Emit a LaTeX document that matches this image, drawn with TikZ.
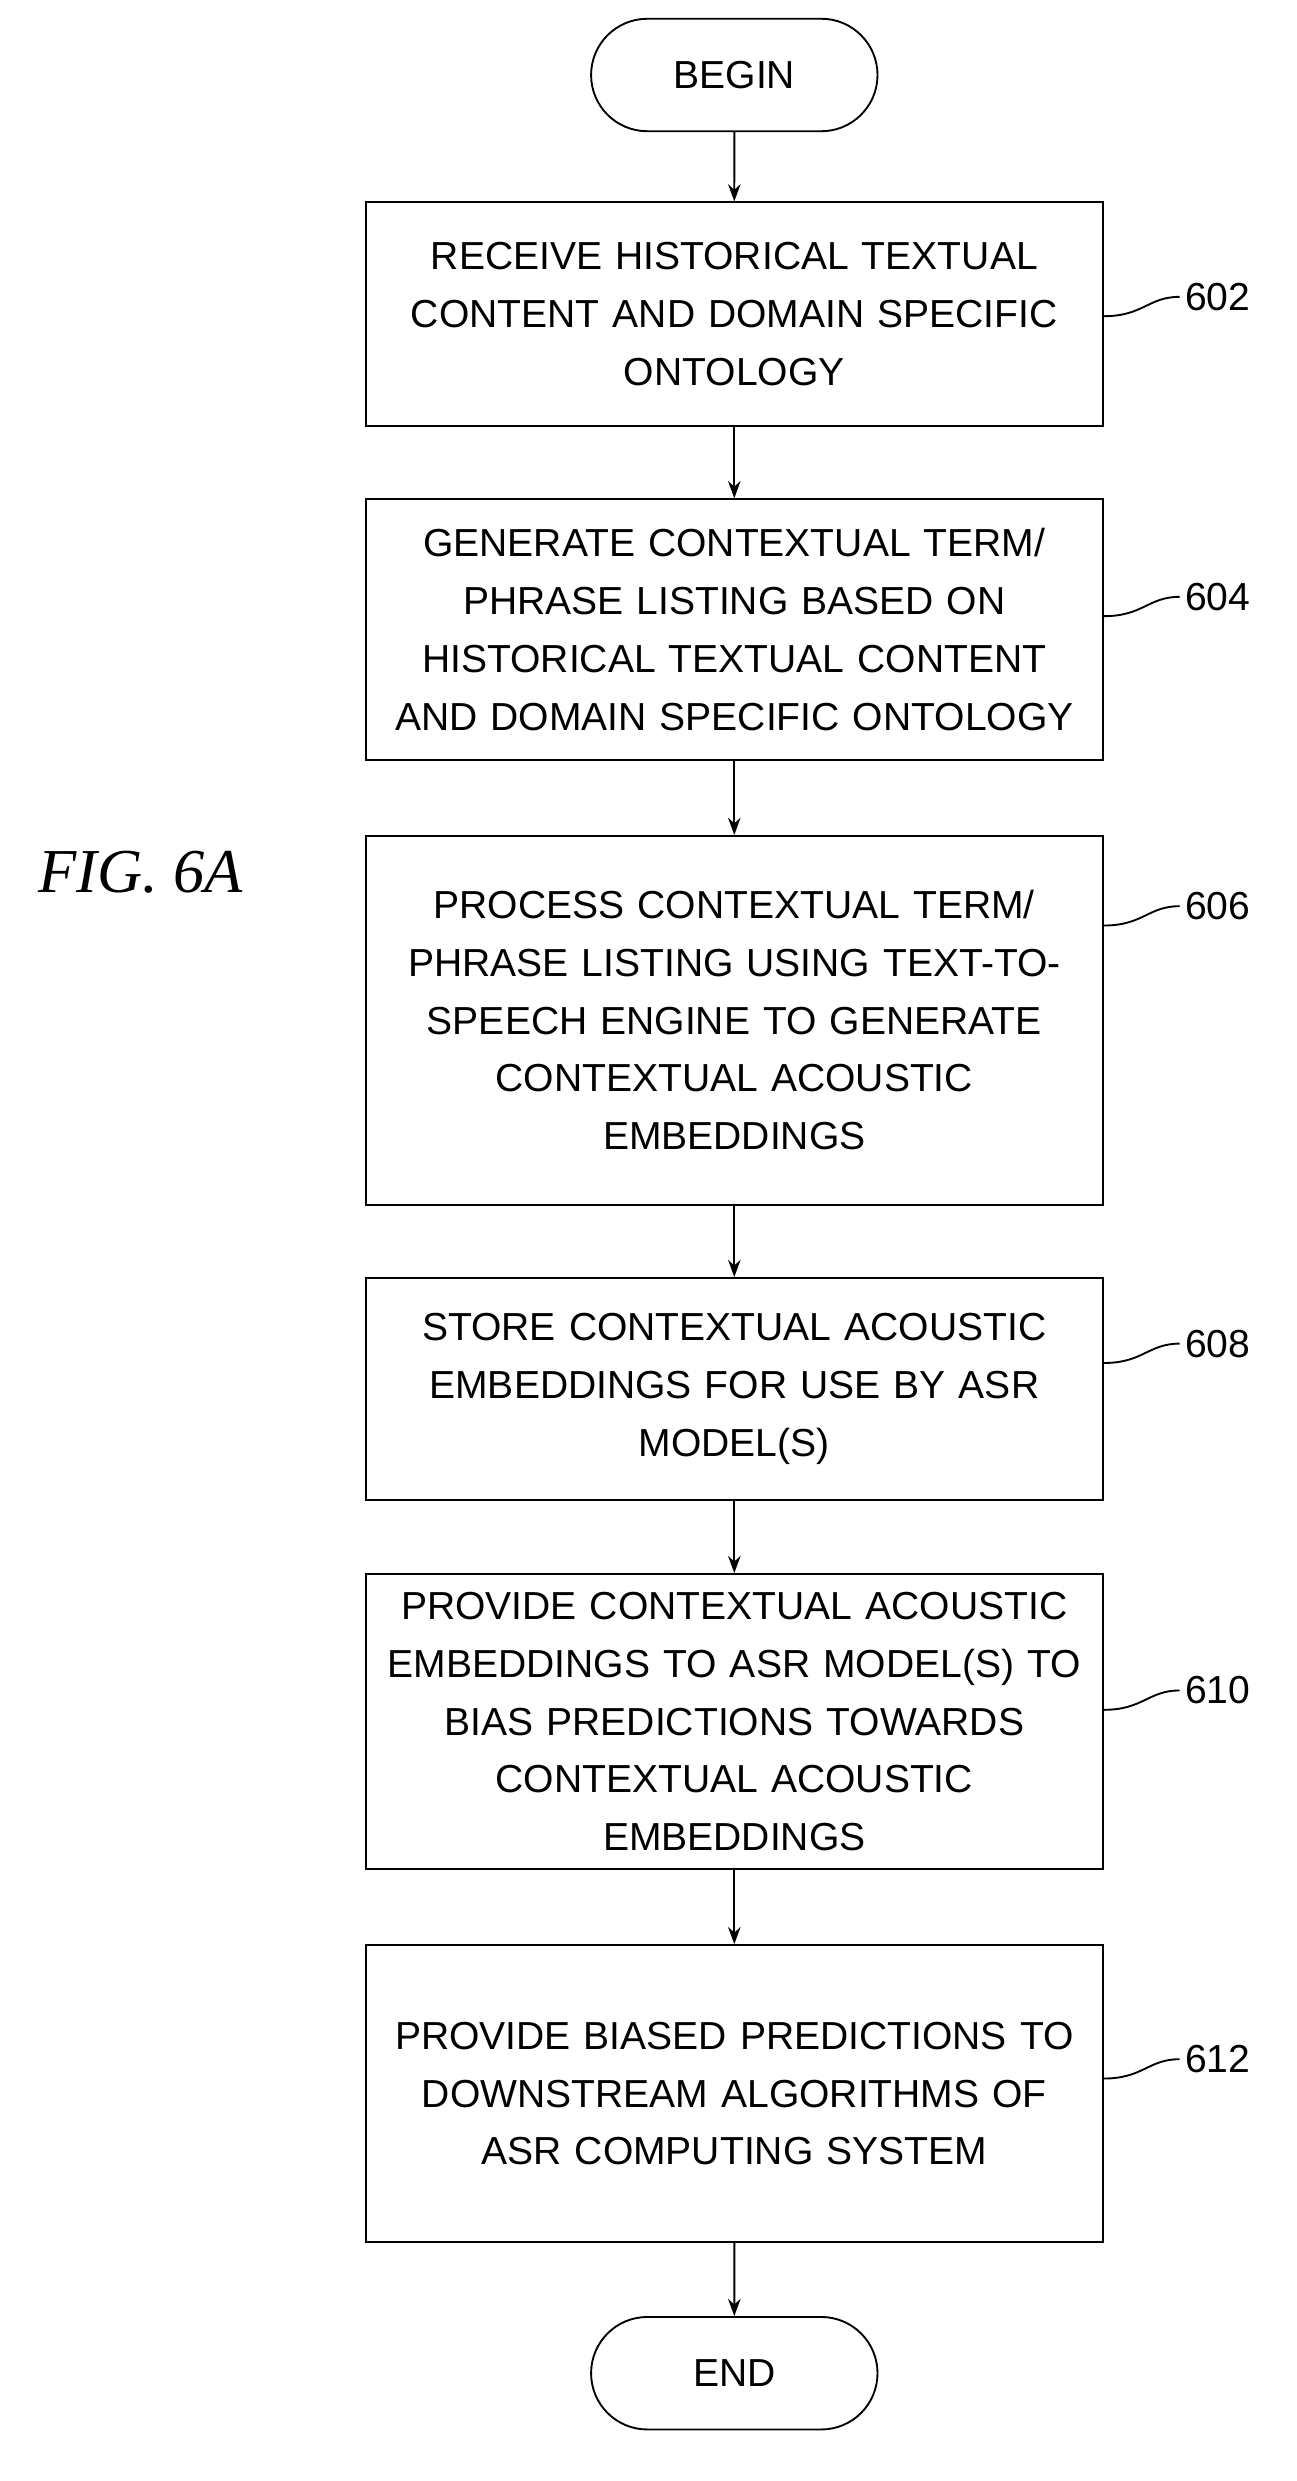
\documentclass[tikz,border=0pt]{standalone}
\usepackage{fontspec}
\setmainfont{Liberation Sans}
\newfontfamily\figfont{Liberation Serif}
\usetikzlibrary{positioning,shapes.misc,arrows.meta}
\tikzset{
	stepbox/.style={draw,line width=1.2pt,minimum width=472pt,text width=470pt,align=center,inner sep=0pt,font=\fontsize{25}{37}\selectfont},
	term/.style={draw,rounded rectangle,line width=1.2pt,minimum width=190pt,minimum height=72pt,font=\fontsize{25}{28}\selectfont},
	flow/.style={->,>={Stealth[width=8pt,length=11pt]},line width=1.2pt},
	lead/.style={line width=1.2pt},
	reflabel/.style={font=\fontsize{25}{28}\selectfont,anchor=west}
}
\begin{document}
\begin{tikzpicture}[x=1pt,y=-1pt]
	\useasboundingbox (0,0) rectangle (830,1588);
	
	\node[term] (begin) at (470,48) {BEGIN};
	\node[stepbox,minimum height=143pt] (s602) at (470,201) {RECEIVE HISTORICAL TEXTUAL\\CONTENT AND DOMAIN SPECIFIC\\ONTOLOGY};
	\node[stepbox,minimum height=167pt] (s604) at (470,403) {GENERATE CONTEXTUAL TERM/\\PHRASE LISTING BASED ON\\HISTORICAL TEXTUAL CONTENT\\AND DOMAIN SPECIFIC ONTOLOGY};
	\node[stepbox,minimum height=236pt] (s606) at (470,653) {PROCESS CONTEXTUAL TERM/\\PHRASE LISTING USING TEXT-TO-\\SPEECH ENGINE TO GENERATE\\CONTEXTUAL ACOUSTIC\\EMBEDDINGS};
	\node[stepbox,minimum height=142pt] (s608) at (470,889) {STORE CONTEXTUAL ACOUSTIC\\EMBEDDINGS FOR USE BY ASR\\MODEL(S)};
	\node[stepbox,minimum height=189pt] (s610) at (470,1102) {PROVIDE CONTEXTUAL ACOUSTIC\\EMBEDDINGS TO ASR MODEL(S) TO\\BIAS PREDICTIONS TOWARDS\\CONTEXTUAL ACOUSTIC\\EMBEDDINGS};
	\node[stepbox,minimum height=190pt] (s612) at (470,1340) {PROVIDE BIASED PREDICTIONS TO\\DOWNSTREAM ALGORITHMS OF\\ASR COMPUTING SYSTEM};
	\node[term] (end) at (470,1519) {END};
	
	\node[font=\figfont\itshape\fontsize{40}{44}\selectfont] (fig) at (90,558) {FIG. 6A};
	
	% reference labels
	\node[reflabel] (l602) at (755,190) {602};
	\node[reflabel] (l604) at (755,382) {604};
	\node[reflabel] (l606) at (755,580) {606};
	\node[reflabel] (l608) at (755,860) {608};
	\node[reflabel] (l610) at (755,1082) {610};
	\node[reflabel] (l612) at (755,1318) {612};
	
	\foreach \s in {602,604,606,608,610,612}
		\draw[lead] (s\s.east |- l\s.south) .. controls +(25,0) and +(-20,0) .. (l\s.west);
	
	\draw[flow] (begin) -- (s602);
	\draw[flow] (s602) -- (s604);
	\draw[flow] (s604) -- (s606);
	\draw[flow] (s606) -- (s608);
	\draw[flow] (s608) -- (s610);
	\draw[flow] (s610) -- (s612);
	\draw[flow] (s612) -- (end);
\end{tikzpicture}
\end{document}
